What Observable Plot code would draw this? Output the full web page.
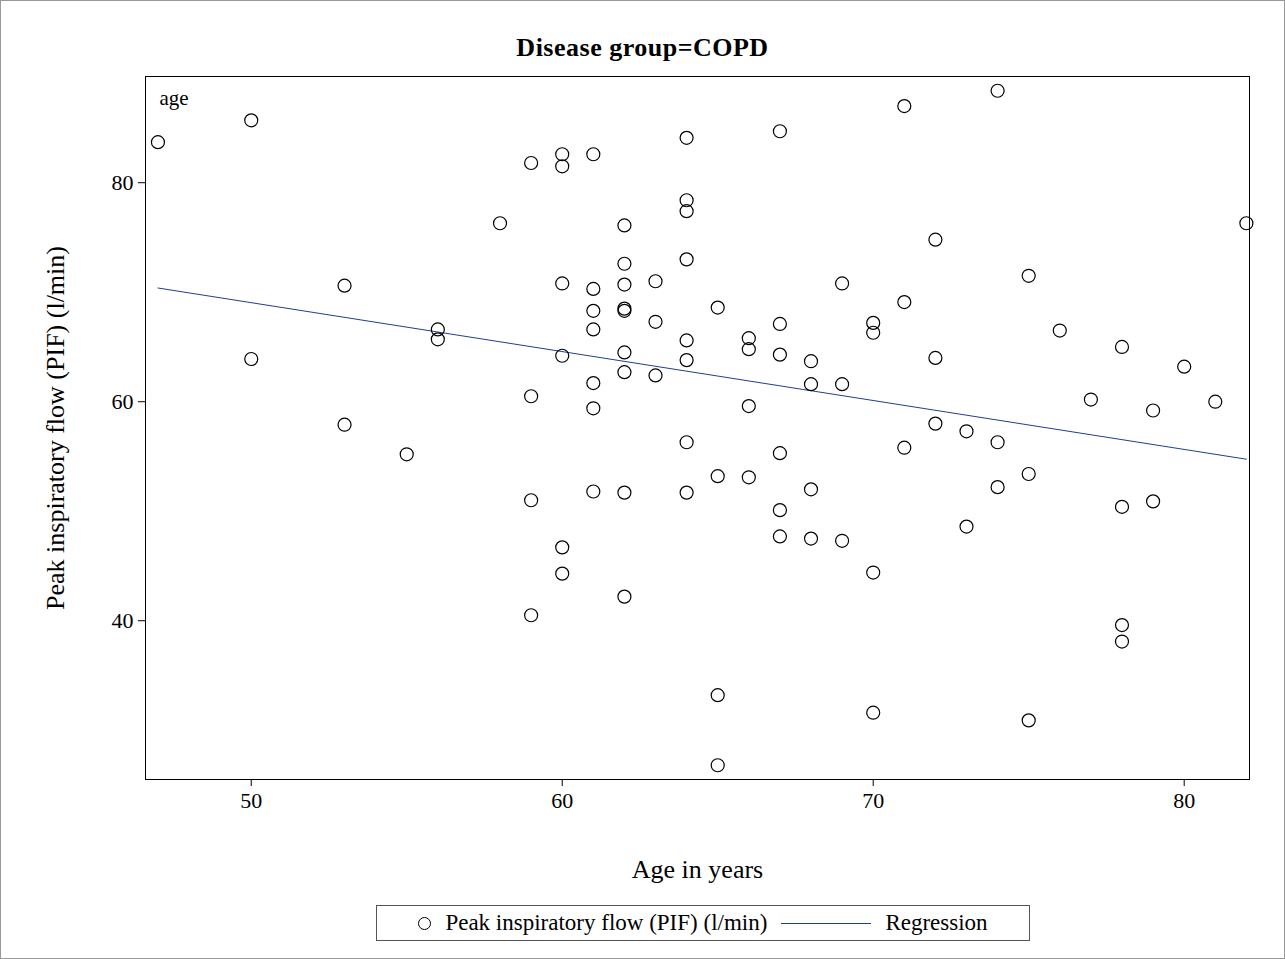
<!DOCTYPE html>
<html><head><meta charset="utf-8">
<script src="https://cdn.jsdelivr.net/npm/d3@7"></script>
<script src="https://cdn.jsdelivr.net/npm/@observablehq/plot@0.6"></script>
<style>
body{margin:0;background:#fff;font-family:"Liberation Serif",serif}
#wrap{width:1285px;height:959px;box-sizing:border-box;border:1px solid #999;position:relative}
#title{height:60px;text-align:center;font-weight:bold;font-size:26px;line-height:94px;letter-spacing:0.5px}
#legend{position:absolute;left:375px;top:904px;width:654px;height:36px;border:1px solid #555;box-sizing:border-box;font-size:23px;display:flex;align-items:center;justify-content:center;gap:14px}
#legend .c{display:inline-block;width:11px;height:11px;border:1.3px solid #000;border-radius:50%}
#legend .l{display:inline-block;width:90px;border-top:1px solid #1f3f8f}
</style></head><body>
<div id="wrap">
<div id="title">Disease group=COPD</div>
<div id="chart"></div>
<div id="legend"><span class="c"></span><span>Peak inspiratory flow (PIF) (l/min)</span><span class="l"></span><span>Regression</span></div>
</div>
<script>
// age -> list of PIF readings
const ages = [47,50,50,53,53,55,56,56,58,
  59,59,59,59,60,60,60,60,60,60,
  61,61,61,61,61,61,61,
  62,62,62,62,62,62,62,62,62,
  63,63,63,
  64,64,64,64,64,64,64,64,
  65,65,65,65,
  66,66,66,66,
  67,67,67,67,67,67,
  68,68,68,68,
  69,69,69,
  70,70,70,70,
  71,71,71,
  72,72,72,
  73,73,
  74,74,74,
  75,75,75,
  76,77,78,78,78,78,79,79,80,81,82];
const pif = [83.7,85.7,63.9,70.6,57.9,55.2,66.6,65.7,76.3,
  81.8,60.5,51.0,40.5,82.6,81.5,70.8,64.2,46.7,44.3,
  82.6,70.3,68.3,66.6,61.7,59.4,51.8,
  76.1,72.6,70.7,68.5,68.3,64.5,62.7,51.7,42.2,
  71.0,67.3,62.4,
  84.1,78.4,77.4,73.0,65.6,63.8,56.3,51.7,
  68.6,53.2,33.2,26.8,
  65.8,64.8,59.6,53.1,
  84.7,67.1,64.3,55.3,50.1,47.7,
  63.7,61.6,52.0,47.5,
  70.8,61.6,47.3,
  67.2,66.3,44.4,31.6,
  87.0,69.1,55.8,
  74.8,64.0,58.0,
  57.3,48.6,
  88.4,56.3,52.2,
  71.5,53.4,30.9,
  66.5,60.2,65.0,50.4,39.6,38.1,59.2,50.9,63.2,60.0,76.3];
const xTicks = [50,60,70,80];
const yTicks = [40,60,80];

const data = ages.map((a,i)=>({age:a, pif:pif[i]}));

const chart = Plot.plot({
  width: 1283, height: 830,
  marginTop: 15, marginBottom: 112, marginLeft: 144, marginRight: 35,
  style: {fontFamily: "Liberation Serif", fontSize: "22px", color: "#000"},
  x: {domain: [46.6, 82.1], label: "Age in years", labelArrow: "none"},
  y: {domain: [25.5, 89.7], label: "Peak inspiratory flow (PIF) (l/min)", labelArrow: "none"},
  marks: [
    Plot.axisX(xTicks, {tickSize: 7, tickPadding: 6, fontSize: 22,
      label: "Age in years", labelAnchor: "center", labelArrow: "none", labelOffset: 98}),
    Plot.axisY(yTicks, {tickSize: 7, tickPadding: 5, fontSize: 22,
      label: "Peak inspiratory flow (PIF) (l/min)", labelAnchor: "center", labelArrow: "none", labelOffset: 100}),
    Plot.frame({stroke: "#000"}),
    Plot.linearRegressionY(data, {x: "age", y: "pif", ci: 0, stroke: "#1f3f8f", strokeWidth: 1}),
    Plot.dot(data, {x: "age", y: "pif", r: 6.5, stroke: "#000", strokeWidth: 1.2, fill: "none"}),
    Plot.text(["age"], {frameAnchor: "top-left", dx: 14, dy: 14, fontSize: 21})
  ]
});
chart.querySelectorAll("[aria-label='x-axis label'] text, [aria-label='y-axis label'] text").forEach(t=>t.style.fontSize="26px");
document.getElementById("chart").appendChild(chart);
</script>
</body></html>
